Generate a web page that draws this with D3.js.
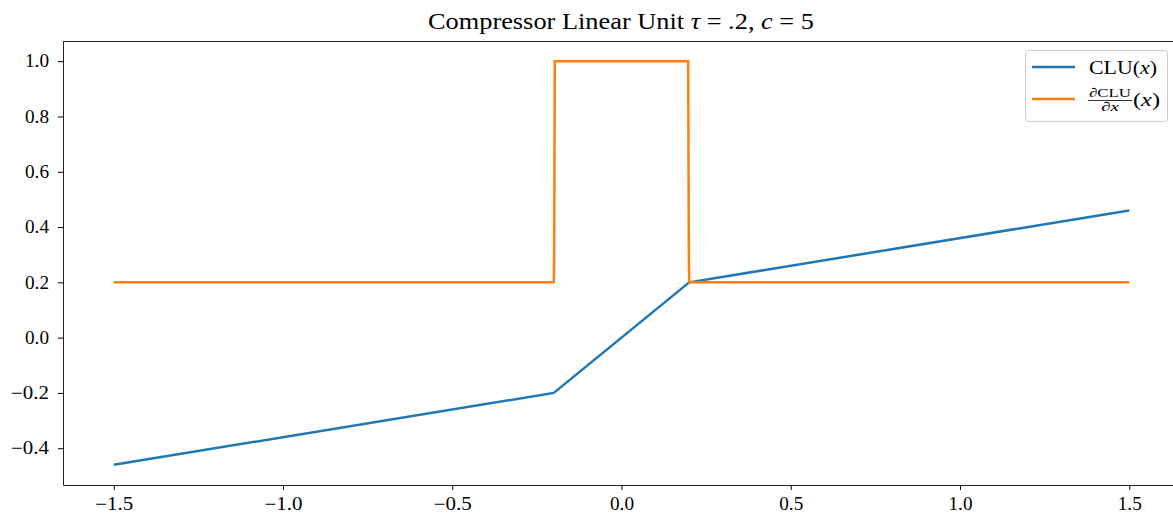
<!DOCTYPE html>
<html>
<head>
<meta charset="utf-8">
<script src="https://cdn.jsdelivr.net/npm/d3@7"></script>
<style>
  body { margin: 0; background: #fff; }
  text { font-family: "Liberation Serif", "DejaVu Serif", serif; fill: #000; }
</style>
</head>
<body>
<svg id="chart"></svg>
<script>
// data
const cluX = [-1.5, -0.2, 0.2, 1.5];
const cluY = [-0.46, -0.2, 0.2, 0.46];
const dX = [-1.5, -0.2, -0.199, -0.197, 0.197, 0.199, 0.2, 1.5];
const dY = [0.2, 0.2, 0.28, 1.0, 1.0, 0.28, 0.2, 0.2];
const xTicks = [-1.5, -1.0, -0.5, 0.0, 0.5, 1.0, 1.5];
const yTicks = [-0.4, -0.2, 0.0, 0.2, 0.4, 0.6, 0.8, 1.0];

const W = 1173, H = 515;
const margin = { top: 41, right: -7, bottom: 30, left: 63 };

const svg = d3.select("#chart")
    .attr("width", W)
    .attr("height", H);

let x = d3.scaleLinear()
    .domain([-1.65, 1.65])
    .range([margin.left, W - margin.right]);

let y = d3.scaleLinear()
    .domain([-0.533, 1.073])
    .range([H - margin.bottom, margin.top]);

const fmt = d => (d < 0 ? "\u2212" : "") + Math.abs(d).toFixed(1);
// computer-modern style labels are wider than the serif we have
const labelLen = d => 24 + (d < 0 ? 14 : 0);

// axes
const gx = svg.append("g")
    .attr("transform", "translate(0," + (H - margin.bottom) + ")")
    .call(d3.axisBottom(x).tickValues(xTicks).tickFormat(fmt).tickSizeInner(5).tickSizeOuter(0).tickPadding(7));
gx.selectAll("text")
    .attr("font-size", "18px").attr("font-family", null)
    .attr("textLength", labelLen).attr("lengthAdjust", "spacingAndGlyphs");
gx.select(".domain").attr("stroke", "#222");

const gy = svg.append("g")
    .attr("transform", "translate(" + margin.left + ",0)")
    .call(d3.axisLeft(y).tickValues(yTicks).tickFormat(fmt).tickSizeInner(5).tickSizeOuter(0).tickPadding(9));
gy.selectAll("text")
    .attr("font-size", "18px").attr("font-family", null)
    .attr("textLength", labelLen).attr("lengthAdjust", "spacingAndGlyphs");
gy.select(".domain").attr("stroke", "#222");

// top spine
svg.append("line")
    .attr("x1", margin.left).attr("x2", W)
    .attr("y1", margin.top + 0.5).attr("y2", margin.top + 0.5)
    .attr("stroke", "#222");

// lines
const line = d3.line().x(d => x(d[0])).y(d => y(d[1]));

svg.append("path")
    .datum(cluX.map((v, i) => [v, cluY[i]]))
    .attr("d", line)
    .attr("fill", "none")
    .attr("stroke", "#1f77b4")
    .attr("stroke-width", 2.5);

svg.append("path")
    .datum(dX.map((v, i) => [v, dY[i]]))
    .attr("d", line)
    .attr("fill", "none")
    .attr("stroke", "#ff7f0e")
    .attr("stroke-width", 2.5)
    .attr("stroke-linejoin", "round");

// title
const title = svg.append("text")
    .attr("x", 621)
    .attr("y", 29)
    .attr("text-anchor", "middle")
    .attr("font-size", "23px")
    .attr("textLength", 386)
    .attr("lengthAdjust", "spacingAndGlyphs");
title.append("tspan").text("Compressor Linear Unit ");
title.append("tspan").attr("font-style", "italic").text("\u03c4");
title.append("tspan").text(" = .2, ");
title.append("tspan").attr("font-style", "italic").text("c");
title.append("tspan").text(" = 5");

// legend
const lg = svg.append("g");
lg.append("rect")
    .attr("x", 1025.5).attr("y", 50.5)
    .attr("width", 142).attr("height", 71)
    .attr("rx", 3)
    .attr("fill", "#fff")
    .attr("stroke", "#ccc");

lg.append("line")
    .attr("x1", 1032).attr("x2", 1075)
    .attr("y1", 67).attr("y2", 67)
    .attr("stroke", "#1f77b4").attr("stroke-width", 2.5);
lg.append("line")
    .attr("x1", 1032).attr("x2", 1075)
    .attr("y1", 99).attr("y2", 99)
    .attr("stroke", "#ff7f0e").attr("stroke-width", 2.5);

const t1 = lg.append("text").attr("x", 1089).attr("y", 74).attr("font-size", "19px")
    .attr("textLength", 68).attr("lengthAdjust", "spacingAndGlyphs");
t1.append("tspan").text("CLU(");
t1.append("tspan").attr("font-style", "italic").text("x");
t1.append("tspan").text(")");

lg.append("text").attr("x", 1089).attr("y", 97).attr("font-size", "13px")
    .attr("textLength", 42).attr("lengthAdjust", "spacingAndGlyphs")
    .text("\u2202CLU");
lg.append("line")
    .attr("x1", 1088).attr("x2", 1132)
    .attr("y1", 100.5).attr("y2", 100.5)
    .attr("stroke", "#000").attr("stroke-width", 0.8);
const den = lg.append("text").attr("x", 1101).attr("y", 111).attr("font-size", "13px")
    .attr("textLength", 18).attr("lengthAdjust", "spacingAndGlyphs");
den.append("tspan").text("\u2202");
den.append("tspan").attr("font-style", "italic").text("x");

const t2 = lg.append("text").attr("x", 1133).attr("y", 106).attr("font-size", "19px")
    .attr("textLength", 27).attr("lengthAdjust", "spacingAndGlyphs");
t2.append("tspan").text("(");
t2.append("tspan").attr("font-style", "italic").text("x");
t2.append("tspan").text(")");
</script>
</body>
</html>
